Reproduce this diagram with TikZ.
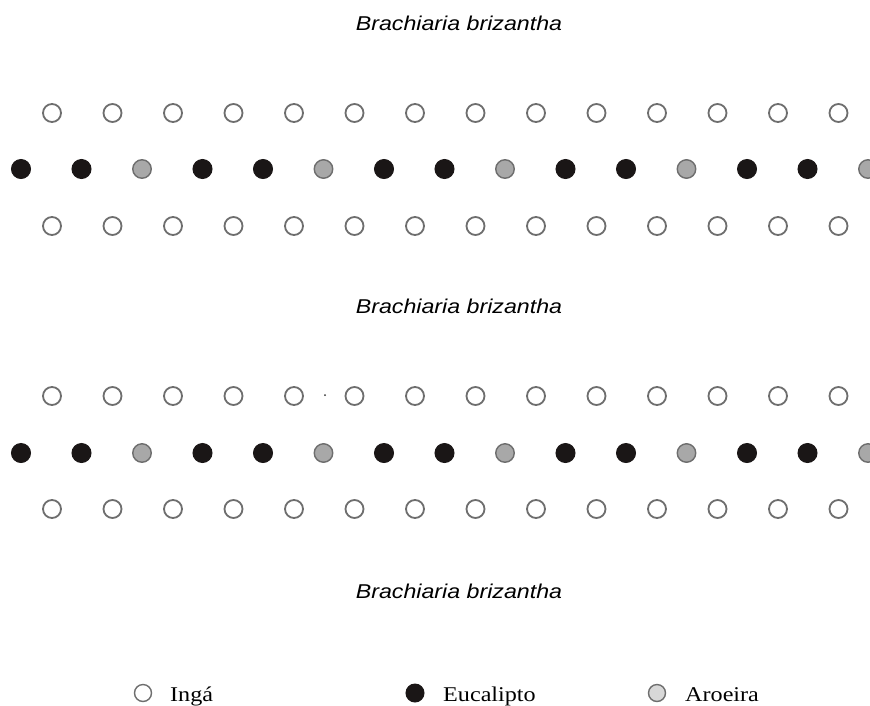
\documentclass[tikz,border=0pt]{standalone}
\usepackage{fontspec}
\newfontfamily\titlefont[FakeStretch=1.16]{Liberation Sans}
\newfontfamily\legendfont[FakeStretch=1.15]{Liberation Serif}
\definecolor{ringgray}{HTML}{6E6E6E}
\definecolor{darkfill}{HTML}{1A1616}
\definecolor{midgray}{HTML}{A8A8A8}
\definecolor{lightgray}{HTML}{D8D8D8}
\begin{document}
\begin{tikzpicture}[x=1pt,y=-1pt,
  inga/.style={circle,draw=ringgray,line width=1.8pt,fill=white,minimum size=18pt,inner sep=0pt},
  euca/.style={circle,draw=darkfill,line width=1pt,fill=darkfill,minimum size=19pt,inner sep=0pt},
  aroeira/.style={circle,draw=ringgray,line width=1.4pt,fill=midgray,minimum size=18.5pt,inner sep=0pt},
  legaroeira/.style={circle,draw=ringgray,line width=1.4pt,fill=lightgray,minimum size=17pt,inner sep=0pt},
  title/.style={inner sep=0pt,anchor=base,font=\titlefont\itshape\fontsize{20}{24}\selectfont},
  legtext/.style={inner sep=0pt,anchor=base west,font=\legendfont\fontsize{21}{25}\selectfont}]
\useasboundingbox (0,0) rectangle (870,705);
\fill[white] (0,0) rectangle (870,705);
% titles
\node[title] (t1) at (459,30) {Brachiaria brizantha};
\node[title] (t2) at (459,313) {Brachiaria brizantha};
\node[title] (t3) at (459,598) {Brachiaria brizantha};
% rows of trees
\foreach \g/\ya/\yb/\yc in {1/113/169/226, 2/396/453/509}{
  \foreach \i in {0,...,13}{
    \node[inga] (a\g-\i) at ({52+60.5*\i},\ya) {};
    \node[inga] (c\g-\i) at ({52+60.5*\i},\yc) {};
  }
  \foreach \i in {0,...,14}{
    \pgfmathtruncatemacro{\m}{mod(\i,3)}
    \ifnum\m=2
      \node[aroeira] (b\g-\i) at ({21+60.5*\i},\yb) {};
    \else
      \node[euca] (b\g-\i) at ({21+60.5*\i},\yb) {};
    \fi
  }
}
\node[circle,fill=black!80,inner sep=0pt,minimum size=2pt] (speck) at (325,395) {};
% legend
\node[inga,minimum size=17pt,line width=1.4pt] (li) at (143,693) {};
\node[legtext] (lit) at (170,701) {Ingá};
\node[euca,minimum size=18pt] (le) at (415,693) {};
\node[legtext] (let) at (443,701) {Eucalipto};
\node[legaroeira] (la) at (657,693) {};
\node[legtext] (lat) at (685,701) {Aroeira};
\end{tikzpicture}
\end{document}
